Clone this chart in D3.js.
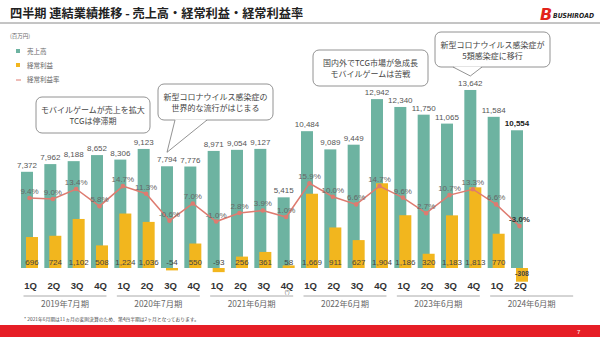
<!DOCTYPE html>
<html lang="ja">
<head>
<meta charset="UTF-8">
<title>四半期 連結業績推移</title>
<script src="https://d3js.org/d3.v7.min.js"></script>
<style>
  body { margin: 0; background: #fff; }
  svg { display: block; }
  .jp { font-family: "Noto Sans CJK JP", "Noto Sans", sans-serif; }
  .num { font-family: "Liberation Sans", Arial, sans-serif; }
</style>
</head>
<body>
<svg width="600" height="337"></svg>
<script>
// --- data ---
const quarters = ["1Q","2Q","3Q","4Q","1Q","2Q","3Q","4Q","1Q","2Q","3Q","4Q",
                  "1Q","2Q","3Q","4Q","1Q","2Q","3Q","4Q","1Q","2Q"];
const fiscalYears = ["2019年7月期","2020年7月期","2021年6月期","2022年6月期","2023年6月期","2024年6月期"];
const sales = [7372,7962,8188,8652,8306,9123,7794,7776,8971,9054,9127,5415,
               10484,9089,9449,12942,12340,11750,11065,13642,11584,10554];
const profit = [696,724,1102,508,1224,1036,-54,550,-93,256,361,58,
                1669,911,627,1904,1186,320,1183,1813,770,-308];
const margin = [9.4,9.0,13.4,5.8,14.7,11.3,-0.6,7.0,-1.0,2.8,3.9,1.0,
                15.9,10.0,6.6,14.7,9.6,2.7,10.7,13.3,6.6,-3.0];
const notes = [
  { lines: ["モバイルゲームが売上を拡大", "TCGは停滞期"], box: [36, 97, 114, 36] },
  { lines: ["新型コロナウイルス感染症の", "世界的な流行がはじまる"], box: [158, 84, 115, 36], tail: [175, 207, 6] },
  { lines: ["国内外でTCG市場が急成長", "モバイルゲームは苦戦"], box: [313, 50, 115, 36] },
  { lines: ["新型コロナウイルス感染症が", "5類感染症に移行"], box: [435, 32, 115, 35], tail: [453, 482, 19] }
];

const GREEN = "#6db3a1", ORANGE = "#f2b61e", LINE = "#de7b70";
const svg = d3.select("svg");
const n = sales.length;
const last = n - 1;

// scales
const x = d3.scalePoint().domain(d3.range(n)).range([29.5, 519.5]);
const base = 268;
const yS = d3.scaleLinear().domain([0, 14000]).range([base, base - 182.7]);
const yP = d3.scaleLinear().domain([0, 2000]).range([base, base - 89]);
const yR = d3.scaleLinear().domain([0, 20]).range([219.3, 219.3 - 45.2]);

// title + header
svg.append("text").attr("class", "jp").attr("x", 10).attr("y", 18)
  .attr("font-size", 12.2).attr("font-weight", "bold").attr("fill", "#222")
  .text("四半期 連結業績推移 - 売上高・経常利益・経常利益率");
svg.append("line").attr("x1", 0).attr("x2", 600).attr("y1", 23).attr("y2", 23)
  .attr("stroke", "#8a8a8a").attr("stroke-width", 1);

// logo
svg.append("text").attr("x", 540).attr("y", 20).attr("font-family", "DejaVu Sans")
  .attr("font-size", 16).attr("font-weight", "bold").attr("font-style", "italic")
  .attr("fill", "#e2231a").text("B");
svg.append("text").attr("x", 553).attr("y", 18).attr("font-family", "DejaVu Sans")
  .attr("font-size", 7).attr("font-weight", "bold").attr("font-style", "italic")
  .attr("fill", "#222").attr("textLength", 41).attr("lengthAdjust", "spacingAndGlyphs")
  .text("BUSHIROAD");

// legend
const lg = svg.append("g").attr("class", "jp").attr("fill", "#666").attr("font-size", 6.5);
lg.append("text").attr("x", 10).attr("y", 38).attr("font-size", 5.5).text("(百万円)");
lg.append("rect").attr("x", 16).attr("y", 49).attr("width", 4).attr("height", 4).attr("fill", GREEN);
lg.append("text").attr("x", 27).attr("y", 53.5).text("売上高");
lg.append("rect").attr("x", 16).attr("y", 63).attr("width", 4).attr("height", 4).attr("fill", ORANGE);
lg.append("text").attr("x", 27).attr("y", 67.5).text("経常利益");
lg.append("line").attr("x1", 16).attr("x2", 21).attr("y1", 80).attr("y2", 80)
  .attr("stroke", LINE).attr("stroke-width", 1);
lg.append("text").attr("x", 27).attr("y", 82).text("経常利益率");

// bars
svg.append("g").selectAll("rect").data(sales).join("rect")
  .attr("x", (d, i) => x(i) - 8.5).attr("width", 12)
  .attr("y", d => yS(d)).attr("height", d => base - yS(d))
  .attr("fill", GREEN);
svg.append("g").selectAll("rect").data(profit).join("rect")
  .attr("x", (d, i) => x(i) - 3.5).attr("width", 12)
  .attr("y", d => Math.min(yP(d), base)).attr("height", d => Math.abs(base - yP(d)))
  .attr("fill", ORANGE);

const fmt = v => d3.format(",")(v).replace("\u2212", "-");
// sales labels
svg.append("g").attr("class", "num").attr("font-size", 8).attr("fill", "#555")
  .attr("text-anchor", "middle")
  .selectAll("text").data(sales).join("text")
  .attr("x", (d, i) => x(i) - 2.5).attr("y", d => yS(d) - 4)
  .attr("font-weight", (d, i) => i === last ? "bold" : null)
  .attr("fill", (d, i) => i === last ? "#222" : null)
  .text(d => fmt(d));
// profit labels
svg.append("g").attr("class", "num").attr("font-size", 8).attr("fill", "#444")
  .attr("text-anchor", "middle")
  .selectAll("text").data(profit).join("text")
  .attr("x", (d, i) => x(i) + 2.5).attr("y", (d, i) => i === last ? 276 : 265)
  .attr("font-weight", (d, i) => i === last ? "bold" : null)
  .attr("font-size", (d, i) => i === last ? 7 : null)
  .text(d => fmt(d));

// margin line
svg.append("path").datum(margin)
  .attr("d", d3.line().x((d, i) => x(i)).y(d => yR(d)))
  .attr("fill", "none").attr("stroke", LINE).attr("stroke-width", 1.5);
svg.append("g").selectAll("circle").data(margin).join("circle")
  .attr("cx", (d, i) => x(i)).attr("cy", d => yR(d)).attr("r", 2.3).attr("fill", LINE);
svg.append("g").attr("class", "num").attr("font-size", 8).attr("fill", "#666")
  .attr("text-anchor", "middle")
  .selectAll("text").data(margin).join("text")
  .attr("x", (d, i) => x(i)).attr("y", d => yR(d) - 4)
  .attr("font-weight", (d, i) => i === last ? "bold" : null)
  .attr("fill", (d, i) => i === last ? "#333" : null)
  .text(d => d.toFixed(1) + "%");

// x axis labels
svg.append("g").attr("class", "num").attr("font-size", 9.5).attr("font-weight", "bold")
  .attr("fill", "#333").attr("text-anchor", "middle")
  .selectAll("text").data(quarters).join("text")
  .attr("x", (d, i) => x(i) + 1).attr("y", 289).text(d => d);
svg.append("text").attr("class", "num").attr("x", x(11) + 1).attr("y", 294)
  .attr("font-size", 4.5).attr("fill", "#555").attr("text-anchor", "middle").text("(*)");

const fy = svg.append("g");
fiscalYears.forEach((label, k) => {
  const x0 = x(4 * k) - 6, x1 = x0 + 83;
  fy.append("line").attr("x1", x0).attr("x2", x1).attr("y1", 296).attr("y2", 296)
    .attr("stroke", "#aaa").attr("stroke-width", 1);
  fy.append("text").attr("class", "jp").attr("x", (x0 + x1) / 2).attr("y", 307)
    .attr("font-size", 8.3).attr("fill", "#666").attr("text-anchor", "middle").text(label);
});

// callouts
notes.forEach(nt => {
  const [bx, by, bw, bh] = nt.box;
  const g = svg.append("g");
  g.append("rect").attr("x", bx).attr("y", by).attr("width", bw).attr("height", bh)
    .attr("rx", 6).attr("fill", "#fff").attr("stroke", "#777").attr("stroke-width", 0.8);
  if (nt.tail) {
    const [t0, t1, idx] = nt.tail;
    const tipX = x(idx) - 2.5;
    const tipY = yS(sales[idx]) - 14;
    g.append("path").attr("d", `M${t0},${by + bh - 0.5}L${tipX},${tipY}L${t1},${by + bh - 0.5}Z`)
      .attr("fill", "#fff").attr("stroke", "none");
    g.append("path").attr("d", `M${t0},${by + bh}L${tipX},${tipY}L${t1},${by + bh}`)
      .attr("fill", "none").attr("stroke", "#777").attr("stroke-width", 0.8);
  }
  nt.lines.forEach((t, j) => {
    g.append("text").attr("class", "jp").attr("x", bx + bw / 2).attr("y", by + 16 + j * 10.5)
      .attr("font-size", 8).attr("fill", "#444").attr("text-anchor", "middle").text(t);
  });
});

// footnote + footer
svg.append("text").attr("class", "jp").attr("x", 24).attr("y", 321)
  .attr("font-size", 4.8).attr("fill", "#444")
  .text("* 2021年6月期は11ヵ月の変則決算のため、第4四半期は2ヶ月となっております。");
svg.append("rect").attr("x", 0).attr("y", 325).attr("width", 600).attr("height", 12).attr("fill", "#e61e26");
svg.append("text").attr("class", "num").attr("x", 577).attr("y", 333.5)
  .attr("font-size", 6).attr("fill", "#fff").text("7");
</script>
</body>
</html>
